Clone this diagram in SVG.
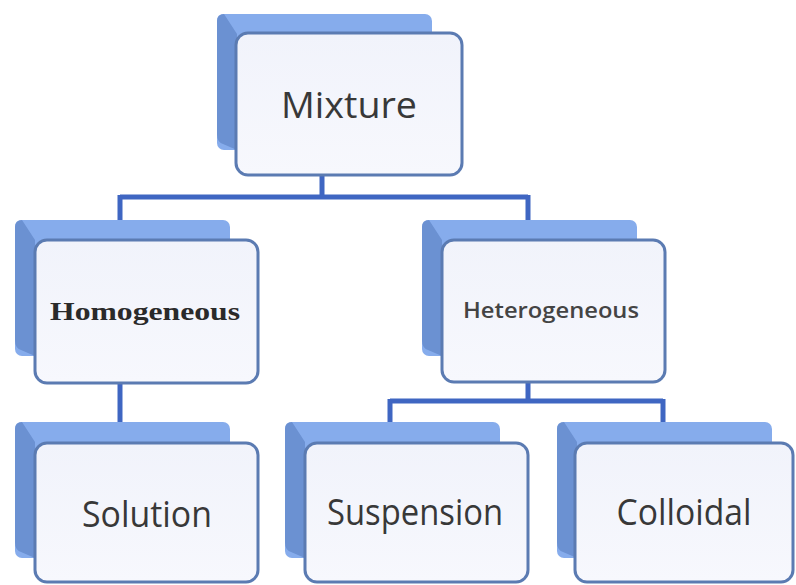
<svg xmlns="http://www.w3.org/2000/svg" width="796" height="585" viewBox="0 0 796 585">
<defs>
<style>
.top{fill:#86acec}
.side{fill:#6b91d2}
.front{fill:url(#fg);stroke:#5b7bb2;stroke-width:3}
.conn{stroke:#3f66c2;stroke-width:5;fill:none}
.big{font-family:"Open Sans",sans-serif;font-size:37px;fill:#383838;text-anchor:middle}
.ser{font-family:"Liberation Serif",serif;font-weight:bold;font-size:26px;fill:#2a2a2a;text-anchor:middle}
.small{font-family:"Open Sans",sans-serif;font-size:21px;font-weight:600;fill:#444;text-anchor:middle}
</style>
<linearGradient id="fg" x1="0" y1="0" x2="0" y2="1">
<stop offset="0" stop-color="#f1f3fb"/>
<stop offset="1" stop-color="#f7f8fd"/>
</linearGradient>
<g id="back">
<rect x="0" y="0" width="215" height="136" rx="7" class="top"/>
<path d="M0,7 Q0,0 7,0 L20,20 L20,136 L6,130 Q0,128 0,120 Z" class="side"/>
</g>
</defs>
<g id="connectors">
<path class="conn" d="M322,175 V197 M120,197 H528 M120,195 V222 M528,195 V222"/>
<path class="conn" d="M120,383 V424"/>
<path class="conn" d="M528,382 V401 M390,401 H663 M390,399 V424 M663,399 V424"/>
</g>
<g id="mixture">
<use href="#back" x="217" y="14"/>
<rect class="front" x="236" y="33" width="226" height="142" rx="12"/>
<text class="big" x="349" y="118" textLength="136" lengthAdjust="spacingAndGlyphs">Mixture</text>
</g>
<g id="homogeneous">
<use href="#back" x="15" y="220"/>
<rect class="front" x="35" y="240" width="223" height="143" rx="12"/>
<text class="ser" x="145" y="320" textLength="190" lengthAdjust="spacingAndGlyphs">Homogeneous</text>
</g>
<g id="heterogeneous">
<use href="#back" x="422" y="220"/>
<rect class="front" x="442" y="240" width="223" height="142" rx="12"/>
<text class="small" x="551" y="318" textLength="176" lengthAdjust="spacingAndGlyphs">Heterogeneous</text>
</g>
<g id="solution">
<use href="#back" x="15" y="422"/>
<rect class="front" x="35" y="443" width="223" height="139" rx="12"/>
<text class="big" x="147" y="527" textLength="130" lengthAdjust="spacingAndGlyphs">Solution</text>
</g>
<g id="suspension">
<use href="#back" x="285" y="422"/>
<rect class="front" x="305" y="443" width="223" height="139" rx="12"/>
<text class="big" x="415" y="525" textLength="176" lengthAdjust="spacingAndGlyphs">Suspension</text>
</g>
<g id="colloidal">
<use href="#back" x="557" y="422"/>
<rect class="front" x="575" y="443" width="218" height="139" rx="12"/>
<text class="big" x="684" y="525" textLength="135" lengthAdjust="spacingAndGlyphs">Colloidal</text>
</g>
</svg>
